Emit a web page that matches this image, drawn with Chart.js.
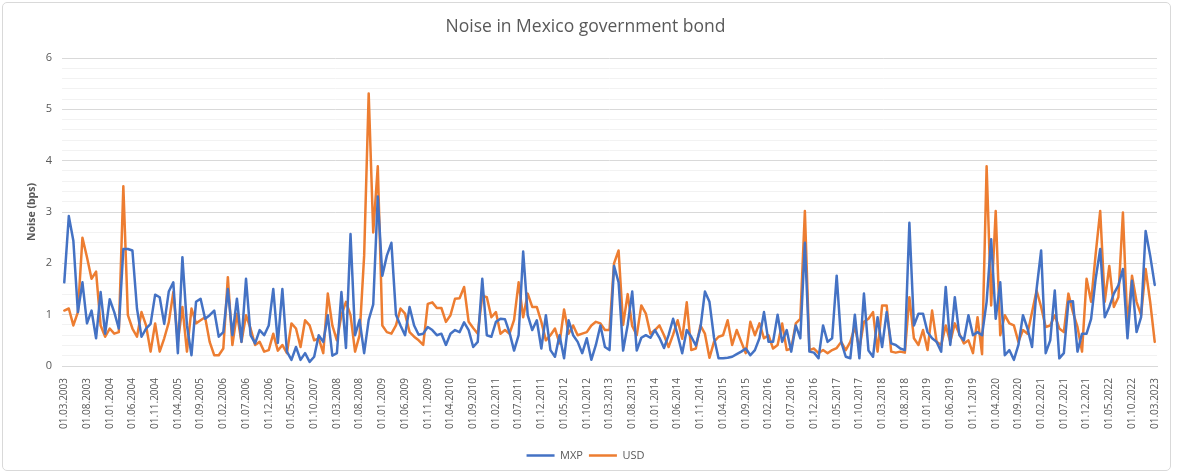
<!DOCTYPE html>
<html>
<head>
<meta charset="utf-8">
<title>Noise in Mexico government bond</title>
<script src="https://cdn.jsdelivr.net/npm/chart.js@4.4.0/dist/chart.umd.min.js"></script>
<style>
  html, body { margin: 0; padding: 0; background: #ffffff; }
  #wrap { position: relative; width: 1177px; height: 475px; overflow: hidden; }
  #c { position: absolute; left: 0; top: 0; }
  #frame {
    position: absolute; left: 2px; top: 2px; width: 1169px; height: 469px;
    border: 1px solid #d9d9d9; border-radius: 5px; box-sizing: border-box; pointer-events: none;
  }
</style>
</head>
<body>
<div id="wrap">
  <canvas id="c" width="1177" height="475"></canvas>
  <div id="frame"></div>
</div>
<script>
// Monthly observations, March 2003 to March 2023
const startYear = 2003;
const startMonth = 3;
const monthCount = 241;

// Axis labels shown every fifth month
const tickLabels = [
  '01.03.2003','01.08.2003','01.01.2004','01.06.2004','01.11.2004','01.04.2005','01.09.2005',
  '01.02.2006','01.07.2006','01.12.2006','01.05.2007','01.10.2007','01.03.2008','01.08.2008',
  '01.01.2009','01.06.2009','01.11.2009','01.04.2010','01.09.2010','01.02.2011','01.07.2011',
  '01.12.2011','01.05.2012','01.10.2012','01.03.2013','01.08.2013','01.01.2014','01.06.2014',
  '01.11.2014','01.04.2015','01.09.2015','01.02.2016','01.07.2016','01.12.2016','01.05.2017',
  '01.10.2017','01.03.2018','01.08.2018','01.01.2019','01.06.2019','01.11.2019','01.04.2020',
  '01.09.2020','01.02.2021','01.07.2021','01.12.2021','01.05.2022','01.10.2022','01.03.2023'
];
const tickEvery = 5;

// Noise, MXP-denominated bonds (bps)
const mxp = [
  1.63, 2.92, 2.44, 1.05, 1.63, 0.83, 1.08, 0.54, 1.44, 0.63,
  1.30, 1.05, 0.73, 2.28, 2.28, 2.25, 1.12, 0.57, 0.73, 0.82,
  1.39, 1.34, 0.82, 1.45, 1.63, 0.25, 2.12, 0.79, 0.21, 1.25,
  1.31, 0.92, 0.99, 1.08, 0.57, 0.66, 1.50, 0.60, 1.31, 0.47,
  1.70, 0.60, 0.44, 0.70, 0.60, 0.79, 1.50, 0.45, 1.50, 0.28,
  0.12, 0.37, 0.12, 0.25, 0.08, 0.18, 0.60, 0.47, 0.99, 0.20,
  0.25, 1.44, 0.35, 2.57, 0.60, 0.90, 0.25, 0.90, 1.20, 3.30,
  1.76, 2.15, 2.40, 1.00, 0.79, 0.60, 1.15, 0.79, 0.61, 0.63,
  0.76, 0.70, 0.60, 0.63, 0.41, 0.63, 0.70, 0.66, 0.85, 0.70,
  0.37, 0.47, 1.70, 0.60, 0.57, 0.86, 0.92, 0.91, 0.65, 0.30,
  0.60, 2.23, 0.99, 0.70, 0.89, 0.34, 0.99, 0.31, 0.18, 0.60,
  0.15, 0.89, 0.60, 0.47, 0.25, 0.54, 0.12, 0.41, 0.79, 0.37,
  0.31, 1.95, 1.63, 0.30, 0.80, 1.45, 0.30, 0.55, 0.60, 0.55,
  0.70, 0.55, 0.35, 0.60, 0.92, 0.60, 0.25, 0.70, 0.57, 0.40,
  0.73, 1.45, 1.25, 0.55, 0.15, 0.15, 0.16, 0.18, 0.23, 0.28,
  0.34, 0.21, 0.31, 0.54, 1.05, 0.47, 0.47, 1.00, 0.47, 0.70,
  0.28, 0.79, 0.54, 2.40, 0.28, 0.26, 0.15, 0.79, 0.47, 0.54,
  1.76, 0.47, 0.18, 0.15, 1.00, 0.15, 1.41, 0.30, 0.18, 0.95,
  0.37, 1.05, 0.44, 0.41, 0.34, 0.31, 2.79, 0.79, 1.02, 1.02,
  0.66, 0.54, 0.47, 0.28, 1.54, 0.41, 1.34, 0.60, 0.50, 0.99,
  0.60, 0.66, 0.60, 1.25, 2.47, 0.92, 1.63, 0.21, 0.31, 0.12,
  0.41, 0.99, 0.73, 0.37, 1.50, 2.25, 0.25, 0.50, 1.47, 0.15,
  0.25, 1.25, 1.26, 0.28, 0.63, 0.63, 0.92, 1.70, 2.28, 0.95,
  1.15, 1.41, 1.57, 1.89, 0.54, 1.66, 0.66, 0.95, 2.63, 2.15,
  1.58
];

// Noise, USD-denominated bonds (bps)
const usd = [
  1.08, 1.12, 0.79, 1.05, 2.50, 2.12, 1.70, 1.84, 0.79, 0.57,
  0.73, 0.63, 0.66, 3.50, 0.99, 0.73, 0.57, 1.05, 0.79, 0.28,
  0.83, 0.28, 0.54, 0.85, 1.44, 0.47, 1.15, 0.28, 1.12, 0.83,
  0.89, 0.95, 0.47, 0.21, 0.21, 0.34, 1.73, 0.41, 1.02, 0.47,
  0.99, 0.73, 0.41, 0.47, 0.28, 0.31, 0.63, 0.30, 0.41, 0.25,
  0.83, 0.73, 0.37, 0.89, 0.79, 0.50, 0.54, 0.25, 1.41, 0.79,
  0.50, 0.99, 1.25, 0.99, 0.28, 0.60, 2.15, 5.31, 2.60, 3.89,
  0.79, 0.66, 0.63, 0.79, 1.12, 1.02, 0.66, 0.57, 0.50, 0.41,
  1.21, 1.24, 1.13, 1.13, 0.86, 0.99, 1.31, 1.32, 1.54, 0.86,
  0.74, 0.63, 1.37, 1.34, 0.95, 1.05, 0.63, 0.70, 0.63, 0.90,
  1.63, 0.95, 1.41, 1.15, 1.15, 0.86, 0.50, 0.60, 0.73, 0.44,
  1.10, 0.63, 0.79, 0.60, 0.63, 0.66, 0.79, 0.86, 0.83, 0.70,
  0.70, 2.00, 2.25, 0.80, 1.40, 0.78, 0.60, 1.18, 1.02, 0.63,
  0.70, 0.79, 0.60, 0.37, 0.61, 0.89, 0.53, 1.24, 0.31, 0.34,
  0.79, 0.63, 0.16, 0.47, 0.57, 0.60, 0.89, 0.41, 0.70, 0.47,
  0.25, 0.86, 0.60, 0.83, 0.54, 0.60, 0.34, 0.41, 0.83, 0.31,
  0.34, 0.83, 0.92, 3.02, 0.31, 0.34, 0.25, 0.31, 0.25, 0.31,
  0.35, 0.47, 0.31, 0.47, 0.76, 0.34, 0.86, 0.92, 1.05, 0.28,
  1.18, 1.18, 0.28, 0.26, 0.28, 0.26, 1.34, 0.54, 0.41, 0.70,
  0.31, 1.08, 0.47, 0.41, 0.79, 0.47, 0.83, 0.63, 0.44, 0.50,
  0.25, 0.95, 0.23, 3.89, 1.18, 3.02, 0.60, 0.99, 0.83, 0.79,
  0.47, 0.70, 0.63, 1.05, 1.47, 1.15, 0.76, 0.79, 0.99, 0.73,
  0.66, 1.41, 1.05, 0.76, 0.28, 1.70, 1.25, 2.18, 3.02, 1.25,
  1.95, 1.15, 1.34, 2.99, 0.76, 1.76, 1.25, 0.99, 1.89, 1.25,
  0.47
];

// One category per month, written as dd.mm.yyyy
const categories = [];
for (let k = 0; k < monthCount; k++) {
  const m0 = startMonth - 1 + k;
  const y = startYear + Math.floor(m0 / 12);
  const m = (m0 % 12) + 1;
  categories.push('01.' + String(m).padStart(2, '0') + '.' + y);
}

const textColor = '#595959';
const uiFont = "'Open Sans', 'Liberation Sans', sans-serif";
const isWhole = v => Math.abs(v - Math.round(v)) < 1e-6;

new Chart(document.getElementById('c'), {
  type: 'line',
  data: {
    labels: categories,
    datasets: [
      { label: 'MXP', data: mxp, borderColor: '#4472C4', backgroundColor: '#4472C4' },
      { label: 'USD', data: usd, borderColor: '#ED7D31', backgroundColor: '#ED7D31' }
    ]
  },
  options: {
    responsive: false,
    animation: false,
    devicePixelRatio: 1,
    layout: { padding: { top: 8, left: 14, right: 20, bottom: 4 } },
    elements: {
      point: { radius: 0, hoverRadius: 0 },
      line: { borderWidth: 2.5, tension: 0, borderJoinStyle: 'round', borderCapStyle: 'round' }
    },
    plugins: {
      title: {
        display: true,
        text: 'Noise in Mexico government bond',
        color: textColor,
        font: { family: uiFont, size: 17.5, weight: 'normal' },
        padding: { top: 9, bottom: 20 }
      },
      legend: {
        position: 'bottom',
        labels: {
          color: textColor,
          font: { family: uiFont, size: 11 },
          usePointStyle: true,
          pointStyle: 'line',
          pointStyleWidth: 28,
          boxHeight: 12,
          padding: 6,
          generateLabels(chart) {
            return chart.data.datasets.map((ds, i) => ({
              text: ds.label,
              datasetIndex: i,
              pointStyle: 'line',
              strokeStyle: ds.borderColor,
              fillStyle: ds.borderColor,
              lineWidth: 2.5,
              fontColor: textColor,
              hidden: false
            }));
          }
        }
      },
      tooltip: { enabled: false }
    },
    scales: {
      x: {
        type: 'category',
        offset: true,
        grid: { display: false },
        border: { display: true, color: '#d9d9d9', width: 1 },
        ticks: {
          autoSkip: false,
          maxRotation: 90,
          minRotation: 90,
          padding: 4,
          color: textColor,
          font: { family: uiFont, size: 10 },
          callback(value, index) {
            return index % tickEvery === 0 ? tickLabels[index / tickEvery] : '';
          }
        },
        afterFit(scale) { scale.height = 78; }
      },
      y: {
        min: 0,
        max: 6,
        grid: {
          drawTicks: false,
          color: ctx => isWhole(ctx.tick.value) ? '#d9d9d9' : '#f2f2f2',
          lineWidth: 1
        },
        border: { display: false },
        ticks: {
          stepSize: 0.2,
          autoSkip: false,
          padding: 10,
          color: textColor,
          font: { family: uiFont, size: 11 },
          callback: v => isWhole(v) ? String(Math.round(v)) : ''
        },
        title: {
          display: true,
          text: 'Noise (bps)',
          color: textColor,
          font: { family: uiFont, size: 10.5, weight: 'bold' },
          padding: { top: 12, bottom: 0 }
        },
        afterFit(scale) { scale.width = 48; }
      }
    }
  }
});
</script>
</body>
</html>
